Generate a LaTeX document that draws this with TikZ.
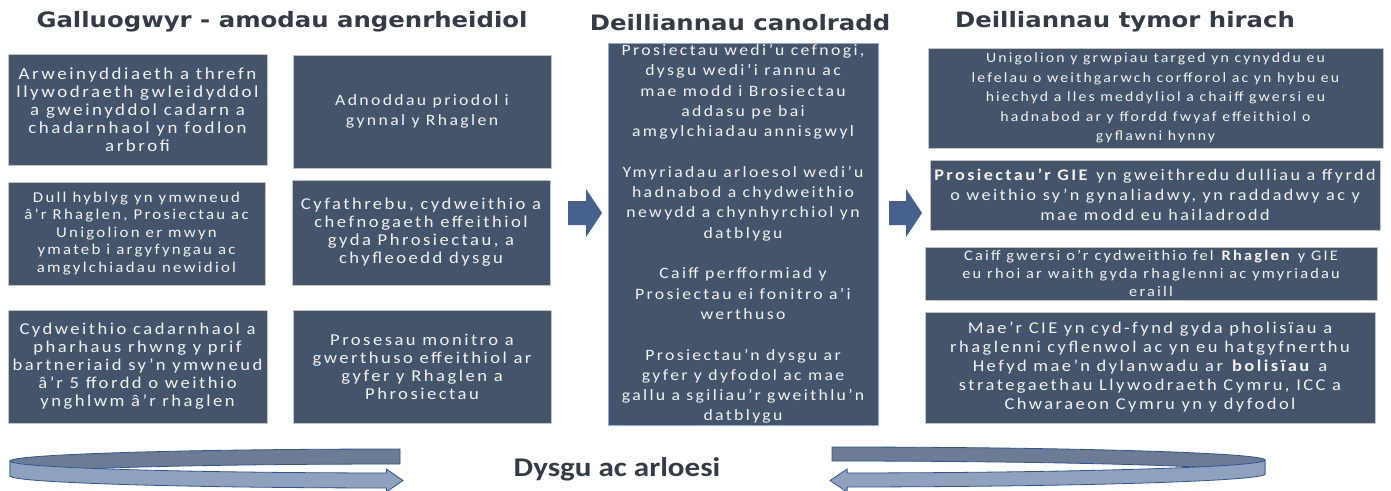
\documentclass[tikz,border=0pt]{standalone}
\usepackage{fontspec}
\newfontfamily\boxfont{Carlito}[FakeStretch=1.12,LetterSpace=15]
\newfontfamily\headfont{DejaVu Sans}[FakeStretch=1.15]
\newfontfamily\loopfont{Carlito}[FakeStretch=1.15]
\newcommand\bxf[2]{\boxfont\fontsize{#1}{#2}\selectfont}
\definecolor{boxfill}{HTML}{44546A}
\definecolor{boxline}{HTML}{C4C4C4}
\definecolor{midline}{HTML}{8EA9DB}
\definecolor{boxtext}{HTML}{F2F2F2}
\definecolor{headcol}{HTML}{323B46}
\definecolor{arrowfill}{HTML}{46618C}
\definecolor{bandback}{HTML}{6B7C94}
\definecolor{bandfront}{HTML}{8FA2BD}
\definecolor{bandline}{HTML}{2E5597}
\begin{document}
\begin{tikzpicture}[x=1pt,y=-1pt,
  box/.style={draw=boxline,line width=1pt,fill=boxfill,text=boxtext,align=center,inner sep=0pt},
  head/.style={text=headcol,font=\headfont\bfseries\fontsize{21.2}{25}\selectfont},
  blockarrow/.style={fill=arrowfill},
  backband/.style={fill=bandback,draw=bandline,line width=0.8pt},
  frontband/.style={fill=bandfront,draw=bandline,line width=0.8pt}]
\useasboundingbox (0,0) rectangle (1391,490);
\fill[white] (0,0) rectangle (1391,490);

% headings
\node[head] (h1) at (282,22) {Galluogwyr - amodau angenrheidiol};
\node[head] (h2) at (740,23) {Deilliannau canolradd};
\node[head] (h3) at (1125,22) {Deilliannau tymor hirach};

% left columns
\node[box,minimum width=259pt,minimum height=111pt,font={\bxf{16.9}{18}}] (l1) at (137.5,109.5)
 {Arweinyddiaeth a threfn\\llywodraeth gwleidyddol\\a gweinyddol cadarn a\\chadarnhaol yn fodlon\\arbrofi};
\node[box,minimum width=258pt,minimum height=113pt,font={\bxf{15.8}{20}}] (l2) at (422,111.5)
 {Adnoddau priodol i\\gynnal y Rhaglen};
\node[box,minimum width=257pt,minimum height=103pt,font={\bxf{15}{17.5}}] (l3) at (136.5,233.5)
 {Dull hyblyg yn ymwneud\\â’r Rhaglen, Prosiectau ac\\Unigolion er mwyn\\ymateb i argyfyngau ac\\amgylchiadau newidiol};
\node[box,minimum width=258pt,minimum height=105pt,font={\bxf{16.6}{18}}] (l4) at (421,232.5)
 {Cyfathrebu, cydweithio a\\chefnogaeth effeithiol\\gyda Phrosiectau, a\\chyfleoedd dysgu};
\node[box,minimum width=259pt,minimum height=113pt,font={\bxf{16.6}{18}}] (l5) at (137.5,366.5)
 {Cydweithio cadarnhaol a\\pharhaus rhwng y prif\\bartneriaid sy’n ymwneud\\â’r 5 ffordd o weithio\\ynghlwm â’r rhaglen};
\node[box,minimum width=258pt,minimum height=113pt,font={\bxf{16.6}{18}}] (l6) at (422,366.5)
 {Prosesau monitro a\\gwerthuso effeithiol ar\\gyfer y Rhaglen a\\Phrosiectau};

% middle
\node[box,draw=midline,minimum width=270pt,minimum height=382pt,font={\bxf{15.8}{20.3}}] (m) at (743,234)
 {Prosiectau wedi’u cefnogi,\\dysgu wedi’i rannu ac\\mae modd i Brosiectau\\addasu pe bai\\amgylchiadau annisgwyl\\[20.3pt]
  Ymyriadau arloesol wedi’u\\hadnabod a chydweithio\\newydd a chynhyrchiol yn\\datblygu\\[20.3pt]
  Caiff perfformiad y\\Prosiectau ei fonitro a’i\\werthuso\\[20.3pt]
  Prosiectau’n dysgu ar\\gyfer y dyfodol ac mae\\gallu a sgiliau’r gweithlu’n\\datblygu};

% right
\node[box,minimum width=455pt,minimum height=100pt,font={\bxf{14.1}{19.5}}] (r1) at (1155.5,98)
 {Unigolion y grwpiau targed yn cynyddu eu\\lefelau o weithgarwch corfforol ac yn hybu eu\\hiechyd a lles meddyliol a chaiff gwersi eu\\hadnabod ar y ffordd fwyaf effeithiol o\\gyflawni hynny};
\node[box,minimum width=450pt,minimum height=70pt,font={\bxf{16.2}{20}}] (r2) at (1155,195)
 {\textbf{Prosiectau’r GIE} yn gweithredu dulliau a ffyrdd\\o weithio sy’n gynaliadwy, yn raddadwy ac y\\mae modd eu hailadrodd};
\node[box,minimum width=452pt,minimum height=53pt,font={\bxf{14.6}{18}}] (r3) at (1151,273.5)
 {Caiff gwersi o’r cydweithio fel \textbf{Rhaglen} y GIE\\eu rhoi ar waith gyda rhaglenni ac ymyriadau\\eraill};
\node[box,minimum width=450pt,minimum height=111pt,font={\bxf{16.5}{19}}] (r4) at (1150,367.5)
 {Mae’r CIE yn cyd-fynd gyda pholisïau a\\rhaglenni cyflenwol ac yn eu hatgyfnerthu\\Hefyd mae’n dylanwadu ar \textbf{bolisïau} a\\strategaethau Llywodraeth Cymru, ICC a\\Chwaraeon Cymru yn y dyfodol};

% block arrows
\fill[blockarrow] (568,201) -- (586,201) -- (586,189) -- (602,213) -- (586,237) -- (586,225) -- (568,225) -- cycle;
\fill[blockarrow] (889,201) -- (906,201) -- (906,189) -- (922,213) -- (906,237) -- (906,225) -- (889,225) -- cycle;

% bottom label
\node[text=headcol,font=\loopfont\bfseries\fontsize{27}{32}\selectfont] (loop) at (617,469) {Dysgu ac arloesi};

% left looping ribbon
\draw[backband] (400,449) arc[start angle=-90,end angle=-180,x radius=390,y radius=12]
  -- (10,476) arc[start angle=180,end angle=270,x radius=390,y radius=12] -- cycle;
\draw[frontband] (10,461) arc[start angle=180,end angle=92,x radius=390,y radius=12]
  -- (386.4,469) -- (403,480.5) -- (386.4,492) -- (386.4,488)
  arc[start angle=92,end angle=180,x radius=390,y radius=12] -- cycle;

% right looping ribbon
\draw[backband] (832,447) arc[start angle=-90,end angle=0,x radius=433,y radius=13]
  -- (1265,474) arc[start angle=0,end angle=-90,x radius=433,y radius=13] -- cycle;
\draw[frontband] (1265,460) arc[start angle=0,end angle=88,x radius=433,y radius=13]
  -- (847.1,469) -- (830,480.5) -- (847.1,492) -- (847.1,487)
  arc[start angle=88,end angle=0,x radius=433,y radius=13] -- cycle;
\end{tikzpicture}
\end{document}
